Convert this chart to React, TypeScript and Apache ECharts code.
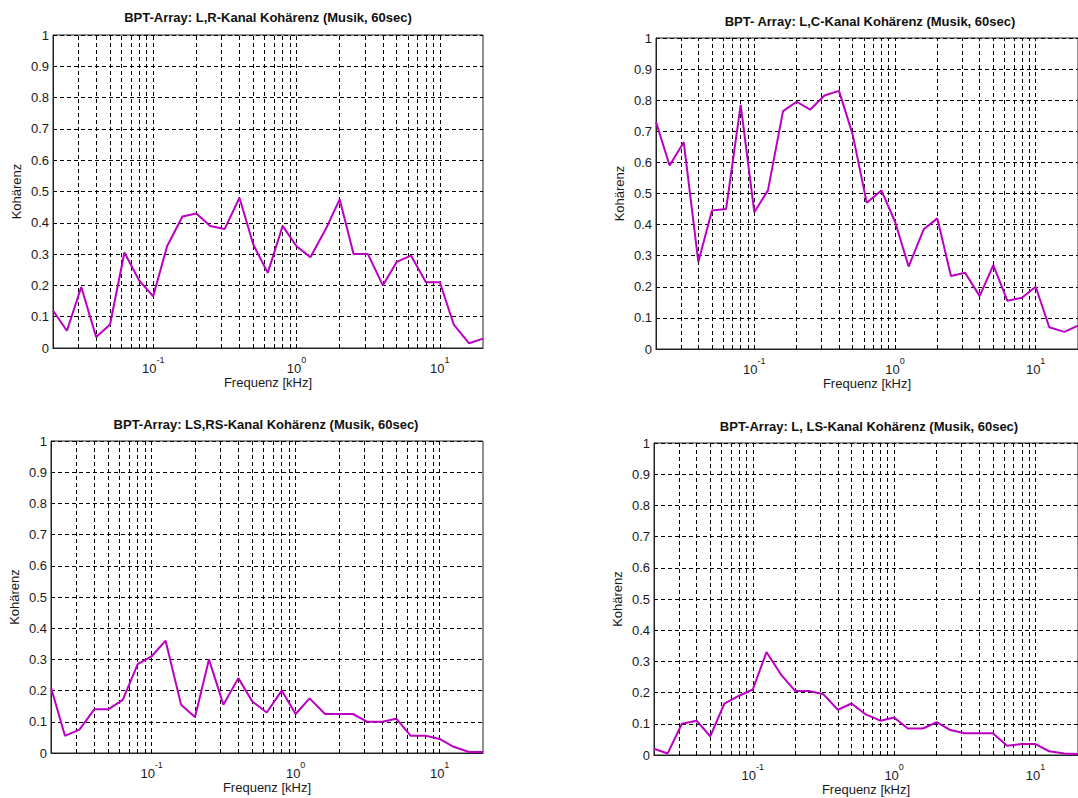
import React, { useEffect, useRef } from "react";
import * as echarts from "echarts";

// third-octave band centre frequencies in kHz
const FREQ = [0.02, 0.025, 0.0315, 0.04, 0.05, 0.063, 0.08, 0.1, 0.125, 0.16, 0.2, 0.25, 0.315, 0.4, 0.5, 0.63, 0.8, 1, 1.25, 1.6, 2, 2.5, 3.15, 4, 5, 6.3, 8, 10, 12.5, 16, 20];

const LR = [0.12, 0.055, 0.195, 0.035, 0.075, 0.305, 0.215, 0.165, 0.325, 0.42, 0.43, 0.39, 0.38, 0.48, 0.33, 0.24, 0.39, 0.325, 0.29, 0.38, 0.475, 0.3, 0.3, 0.2, 0.275, 0.295, 0.21, 0.21, 0.075, 0.015, 0.03];
const LC = [0.73, 0.59, 0.665, 0.28, 0.445, 0.45, 0.785, 0.44, 0.51, 0.765, 0.795, 0.77, 0.815, 0.83, 0.69, 0.47, 0.51, 0.41, 0.265, 0.385, 0.42, 0.235, 0.245, 0.17, 0.27, 0.155, 0.165, 0.2, 0.07, 0.055, 0.075];
const LSRS = [0.21, 0.055, 0.075, 0.14, 0.14, 0.17, 0.285, 0.31, 0.36, 0.155, 0.115, 0.3, 0.155, 0.24, 0.165, 0.13, 0.2, 0.125, 0.175, 0.125, 0.125, 0.125, 0.1, 0.1, 0.11, 0.055, 0.055, 0.045, 0.02, 0.003, 0.003];
const LLS = [0.02, 0.005, 0.1, 0.11, 0.06, 0.165, 0.19, 0.21, 0.33, 0.255, 0.205, 0.205, 0.195, 0.145, 0.165, 0.13, 0.11, 0.12, 0.085, 0.085, 0.105, 0.08, 0.07, 0.07, 0.07, 0.03, 0.035, 0.035, 0.012, 0.005, 0.003];

const TITLES = [
  "BPT-Array: L,R-Kanal Kohärenz (Musik, 60sec)",
  "BPT- Array: L,C-Kanal Kohärenz (Musik, 60sec)",
  "BPT-Array: LS,RS-Kanal Kohärenz (Musik, 60sec)",
  "BPT-Array: L, LS-Kanal Kohärenz (Musik, 60sec)",
];
const SERIES = [LR, LC, LSRS, LLS];

// vertical grid lines of the log axis (kHz)
const VGRID = [0.03, 0.04, 0.05, 0.06, 0.07, 0.08, 0.09, 0.1, 0.2, 0.3, 0.4, 0.5, 0.6, 0.7, 0.8, 0.9, 1, 2, 3, 4, 5, 6, 7, 8, 9, 10];

const X_MIN = 0.02;
const X_MAX = 20;

const GRIDS = [
  { left: 53, top: 35, width: 430, height: 313 },
  { left: 656, top: 38, width: 430, height: 311 },
  { left: 51, top: 441, width: 432, height: 312 },
  { left: 654, top: 443, width: 430, height: 312 },
];
const TITLE_POS = [
  { x: 268, y: 11 },
  { x: 870, y: 15 },
  { x: 266, y: 418 },
  { x: 869, y: 420 },
];

const FONT = 'Arial, "Liberation Sans", Helvetica, sans-serif';
const LINE_COLOR = "#bb00c4";
const TXT = "#1a1a1a";

export default function App() {
  const ref = useRef<HTMLDivElement>(null);
  useEffect(() => {
    if (!ref.current) return;
    const chart = echarts.init(ref.current, null, { renderer: "svg" });
    const xFmt = (v: number) => {
      const e = Math.round(Math.log10(v));
      if (Math.abs(Math.log10(v) - e) > 1e-6) return "";
      return "{b|10}{s|" + e + "}";
    };
    const option: any = {
      animation: false,
      backgroundColor: "#fff",
      title: TITLES.map((t, i) => ({
        text: t,
        left: TITLE_POS[i].x,
        top: TITLE_POS[i].y,
        textAlign: "center",
        padding: 0,
        textStyle: { fontFamily: FONT, fontSize: 13, fontWeight: "bold", color: "#111" },
      })),
      grid: GRIDS.map((g) => ({
        ...g,
        show: true,
        borderColor: "#222",
        borderWidth: 1,
        backgroundColor: "#fff",
        containLabel: false,
      })),
      xAxis: GRIDS.map((_, i) => ({
        type: "log",
        logBase: 10,
        gridIndex: i,
        min: X_MIN,
        max: X_MAX,
        name: "Frequenz [kHz]",
        nameLocation: "middle",
        nameGap: 25,
        nameTextStyle: { fontFamily: FONT, fontSize: 13, color: TXT },
        axisLine: { show: true, lineStyle: { color: "#222", width: 1 } },
        axisTick: { show: false },
        splitLine: { show: false },
        axisLabel: {
          formatter: xFmt,
          margin: 7,
          showMinLabel: false,
          showMaxLabel: false,
          rich: {
            b: { fontFamily: FONT, fontSize: 13, color: TXT, lineHeight: 20, verticalAlign: "bottom" },
            s: { fontFamily: FONT, fontSize: 9, color: TXT, lineHeight: 11, verticalAlign: "top" },
          },
        },
      })),
      yAxis: GRIDS.map((_, i) => ({
        type: "value",
        gridIndex: i,
        min: 0,
        max: 1,
        interval: 0.1,
        name: "Kohärenz",
        nameLocation: "middle",
        nameRotate: 90,
        nameGap: 30,
        nameTextStyle: { fontFamily: FONT, fontSize: 13, color: TXT },
        axisLine: { show: true, lineStyle: { color: "#222", width: 1 } },
        axisTick: { show: false },
        axisLabel: { fontFamily: FONT, fontSize: 13, color: TXT, margin: 4 },
        splitLine: { show: true, lineStyle: { color: "#000", type: [4, 3], width: 1 } },
      })),
      series: SERIES.map((vals, i) => ({
        type: "line",
        xAxisIndex: i,
        yAxisIndex: i,
        data: FREQ.map((f, k) => [f, vals[k]]),
        showSymbol: false,
        symbol: "none",
        lineStyle: { color: LINE_COLOR, width: 2 },
        itemStyle: { color: LINE_COLOR },
        z: 3,
        markLine: {
          silent: true,
          symbol: ["none", "none"],
          label: { show: false },
          animation: false,
          lineStyle: { color: "#000", type: [4, 3], width: 1 },
          data: VGRID.map((v) => ({ xAxis: v })),
          z: 1,
        },
      })),
    };
    chart.setOption(option);
    return () => chart.dispose();
  }, []);
  return (
    <div
      ref={ref}
      style={{ position: "absolute", left: 0, top: 0, width: 1078, height: 798, background: "#fff" }}
    />
  );
}
